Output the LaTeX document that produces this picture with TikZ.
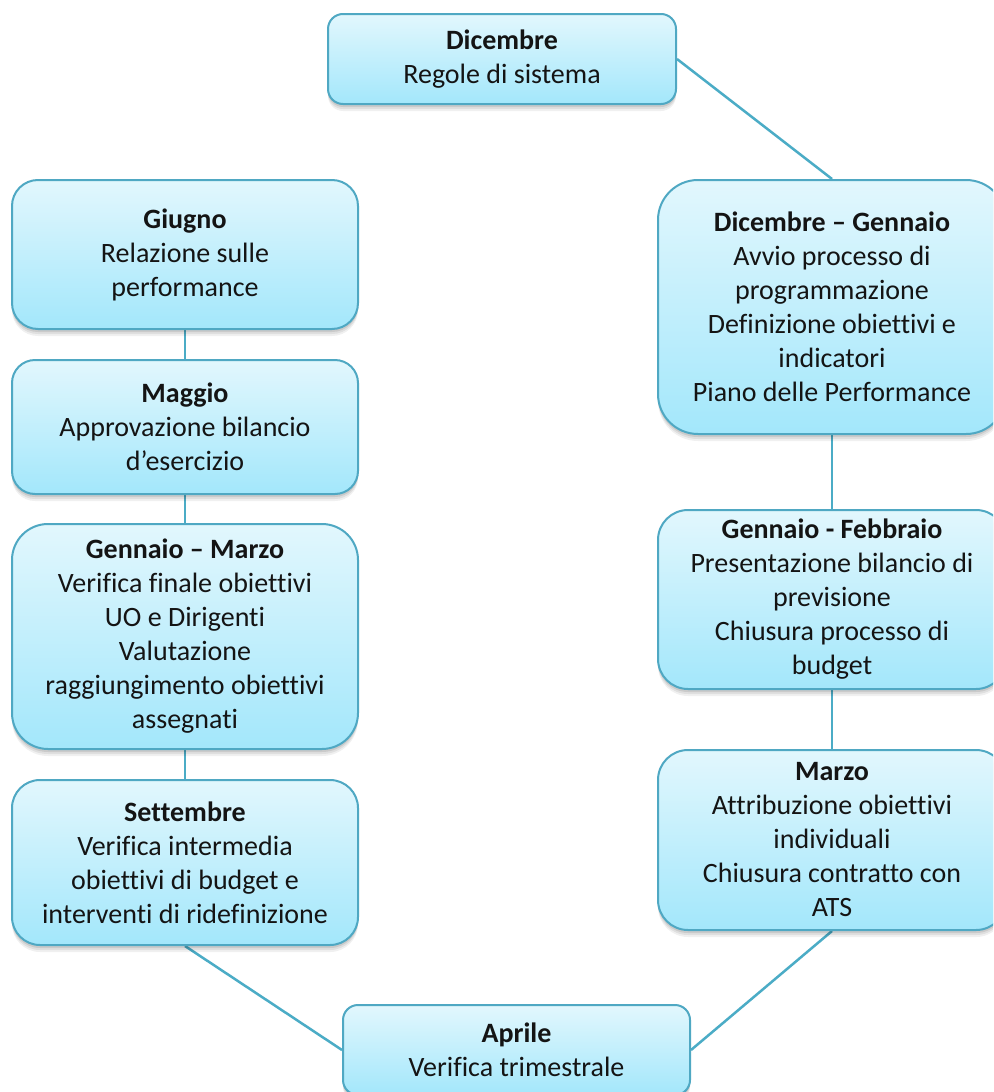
\documentclass[tikz,border=0pt]{standalone}
\usepackage{fontspec}
\setmainfont{Carlito}[Ligatures={NoCommon}]
\pgfdeclarelayer{background}
\pgfsetlayers{background,main}
\definecolor{edge}{HTML}{4FA8C3}
\definecolor{linkc}{HTML}{4BACC6}
\definecolor{topc}{HTML}{E2F7FD}
\definecolor{botc}{HTML}{A3E7FB}
\definecolor{ink}{HTML}{141414}
\tikzset{
  softshade/.style={preaction={fill=black, fill opacity=#1}},
  phase/.style={draw=edge, line width=2pt, top color=topc, bottom color=botc,
    align=center, text=ink, inner sep=0pt,
    font=\fontsize{28}{34}\selectfont,
    preaction={fill=black, fill opacity=0.06, transform canvas={yshift=-7pt}},
    preaction={fill=black, fill opacity=0.07, transform canvas={yshift=-5pt}},
    preaction={fill=black, fill opacity=0.09, transform canvas={yshift=-3pt}}},
  link/.style={draw=linkc, line width=2.5pt}
}
\begin{document}
\begin{tikzpicture}[x=1pt,y=-1pt]
\clip (0,0) rectangle (993,1092);
\useasboundingbox (0,0) rectangle (993,1092);
\begin{pgfonlayer}{background}
\fill[white] (0,0) rectangle (993,1092);
\end{pgfonlayer}

% top and right column
\node[phase, minimum width=348pt, minimum height=90pt, rounded corners=15pt] (dic) at (502,59)
  {\textbf{Dicembre}\\Regole di sistema};
\node[phase, minimum width=348pt, minimum height=254pt, rounded corners=40pt] (dg) at (832,307)
  {\textbf{Dicembre -- Gennaio}\\Avvio processo di\\programmazione\\Definizione obiettivi e\\indicatori\\Piano delle Performance};
\node[phase, minimum width=348pt, minimum height=179pt, rounded corners=30pt] (gf) at (832,599.5)
  {\textbf{Gennaio - Febbraio}\\Presentazione bilancio di\\previsione\\Chiusura processo di\\budget};
\node[phase, minimum width=348pt, minimum height=180pt, rounded corners=30pt] (mar) at (832,840)
  {\textbf{Marzo}\\Attribuzione obiettivi\\individuali\\Chiusura contratto con\\ATS};
\node[phase, minimum width=347pt, minimum height=90pt, rounded corners=15pt] (apr) at (516.5,1050)
  {\textbf{Aprile}\\Verifica trimestrale};

% left column
\node[phase, minimum width=346pt, minimum height=149pt, rounded corners=26pt] (giu) at (185,254.5)
  {\textbf{Giugno}\\Relazione sulle\\performance};
\node[phase, minimum width=346pt, minimum height=134pt, rounded corners=23pt] (mag) at (185,427)
  {\textbf{Maggio}\\Approvazione bilancio\\d’esercizio};
\node[phase, minimum width=346pt, minimum height=225pt, rounded corners=36pt] (gm) at (185,636.5)
  {\textbf{Gennaio -- Marzo}\\Verifica finale obiettivi\\UO e Dirigenti\\Valutazione\\raggiungimento obiettivi\\assegnati};
\node[phase, minimum width=346pt, minimum height=165pt, rounded corners=28pt] (set) at (185,862.5)
  {\textbf{Settembre}\\Verifica intermedia\\obiettivi di budget e\\interventi di ridefinizione};

% connectors behind the boxes
\begin{pgfonlayer}{background}
\draw[link] (dic.east) -- (dg.north);
\draw[link] (dg.south) -- (gf.north);
\draw[link] (gf.south) -- (mar.north);
\draw[link] (mar.south) -- (apr.east);
\draw[link] (apr.west) -- (set.south);
\draw[link] (set.north) -- (gm.south);
\draw[link] (gm.north) -- (mag.south);
\draw[link] (mag.north) -- (giu.south);
\end{pgfonlayer}
\end{tikzpicture}
\end{document}
